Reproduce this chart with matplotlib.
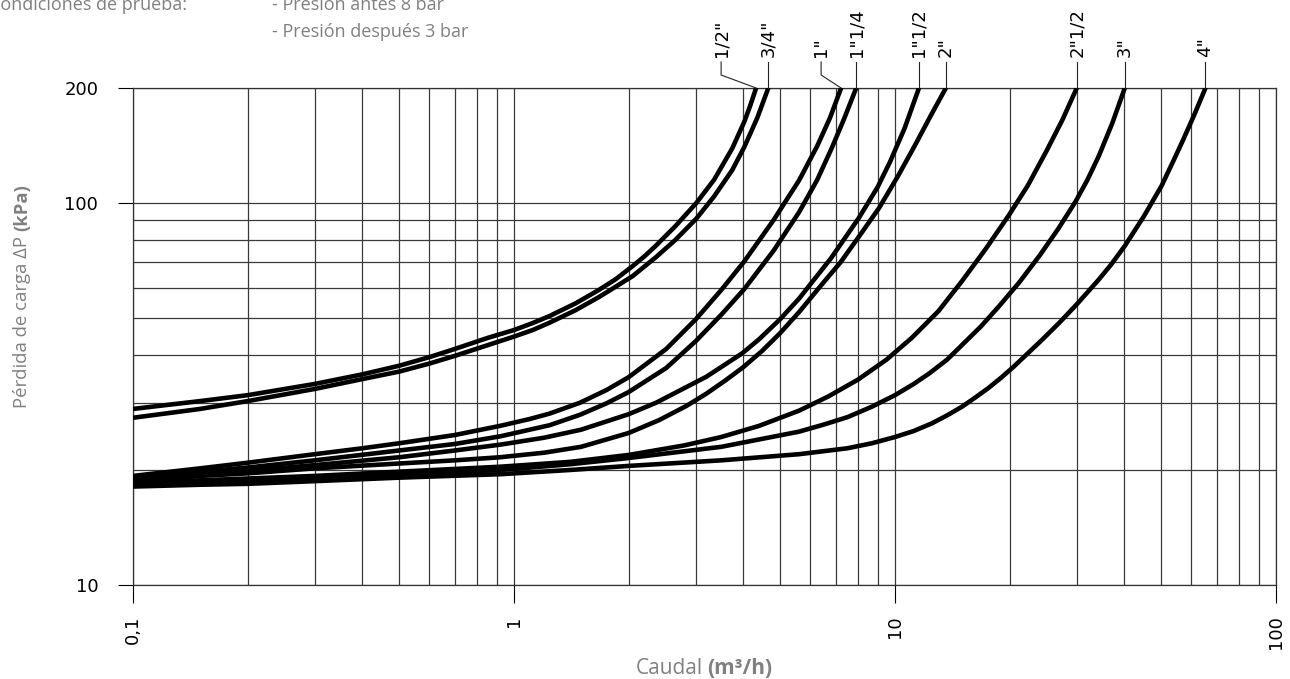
import matplotlib
matplotlib.use('Agg')
import matplotlib.pyplot as plt
from matplotlib.lines import Line2D
from matplotlib.ticker import FixedLocator, LogLocator, NullFormatter

# sizes (labels at top of each curve)
sizes = ['1/2"', '3/4"', '1"', '1"1/4', '1"1/2', '2"', '2"1/2', '3"', '4"']

# caudal (m3/h) / perdida de carga (kPa)
q_12 = [0.1, 0.15, 0.2, 0.3, 0.4, 0.5, 0.6, 0.7, 0.85, 1.0, 1.12, 1.24, 1.45, 1.67,
        1.85, 2.05, 2.2, 2.36, 2.65, 3.01, 3.35, 3.74, 4.02, 4.17, 4.32]
p_12 = [28.9, 30.3, 31.4, 33.6, 35.6, 37.5, 39.5, 41.5, 44.3, 46.5, 48.5, 50.6, 54.6, 59.2,
        63.2, 68.4, 72.5, 77.4, 86.9, 100, 115, 139, 163, 180, 200]

q_34 = [0.1, 0.15, 0.2, 0.3, 0.4, 0.5, 0.6, 0.7, 0.85, 1.0, 1.12, 1.24, 1.45, 1.67,
        1.85, 2.05, 2.2, 2.36, 2.65, 3.01, 3.35, 3.74, 4.02, 4.35, 4.5, 4.65]
p_34 = [27.4, 28.9, 30.3, 32.6, 34.6, 36.2, 38.0, 39.8, 42.4, 44.7, 46.5, 48.6, 52.4, 56.7,
        60.4, 64.4, 68.2, 72.2, 80.0, 91.0, 104, 122, 140, 167, 183, 200]

q_1 = [0.1, 0.15, 0.2, 0.3, 0.4, 0.5, 0.7, 0.92, 1.1, 1.24, 1.49, 1.75, 2.0, 2.51, 3.0,
       3.5, 4.02, 4.8, 5.6, 6.25, 6.75, 7.22]
p_1 = [19.3, 20.2, 20.9, 22.0, 22.8, 23.5, 24.7, 26.1, 27.2, 28.1, 30.0, 32.4, 35.0, 41.5,
       49.6, 59.2, 70.3, 90.2, 114.6, 141, 167, 200]

q_114 = [0.1, 0.2, 0.3, 0.5, 0.7, 0.92, 1.24, 1.49, 1.75, 2.0, 2.51, 3.0, 3.5, 4.02,
         4.8, 5.6, 6.25, 6.84, 7.35, 7.91]
p_114 = [19.1, 20.3, 21.2, 22.5, 23.4, 24.5, 26.2, 27.9, 29.9, 32.0, 37.0, 43.5, 51.0, 59.5,
         75.0, 94.6, 115, 140, 166, 200]

q_112 = [0.1, 0.2, 0.3, 0.5, 0.7, 0.92, 1.2, 1.5, 2.0, 2.36, 3.2, 3.97, 4.4, 5.0, 5.6,
         6.8, 8.05, 9.0, 9.7, 10.6, 11.56]
p_112 = [18.9, 19.9, 20.6, 21.6, 22.5, 23.3, 24.3, 25.5, 28.0, 30.0, 35.1, 40.4, 44.0, 49.7,
         56.2, 71.8, 91.6, 110, 128, 157, 200]

q_2 = [0.1, 0.15, 0.2, 0.3, 0.5, 0.7, 0.92, 1.2, 1.5, 2.0, 2.4, 2.83, 3.2, 3.6, 4.0,
       4.48, 5.0, 5.6, 6.4, 7.2, 8.1, 9.08, 10.2, 11.3, 12.4, 13.6]
p_2 = [18.7, 19.3, 19.6, 20.2, 20.8, 21.2, 21.6, 22.2, 23.0, 25.0, 27.0, 29.4, 31.7, 34.4,
       37.2, 41.0, 45.7, 51.8, 60.9, 70.0, 82.5, 97.0, 118, 142, 169, 200]

q_212 = [0.1, 0.15, 0.2, 0.3, 0.5, 0.92, 1.4, 2.0, 2.8, 3.5, 4.4, 5.6, 6.7, 8.0, 9.5,
         11.08, 13.0, 15.0, 17.3, 19.9, 22.3, 25.0, 27.5, 30.0]
p_212 = [18.5, 18.8, 19.0, 19.3, 19.8, 20.4, 21.0, 21.9, 23.2, 24.4, 26.1, 28.6, 31.2, 34.5,
         38.9, 44.4, 52.1, 62.5, 75.8, 92.9, 111, 137, 165, 200]

q_3 = [0.1, 0.15, 0.2, 0.3, 0.5, 0.92, 1.4, 2.0, 3.5, 5.6, 6.5, 7.5, 8.7, 10.0, 11.2,
       12.3, 13.7, 15.0, 16.8, 18.7, 21.2, 24.0, 26.8, 29.8, 32.0, 34.3, 37.2, 40.1]
p_3 = [18.3, 18.5, 18.7, 19.0, 19.4, 20.0, 20.7, 21.5, 23.0, 25.2, 26.3, 27.5, 29.3, 31.4,
       33.6, 35.8, 38.9, 42.5, 47.5, 53.5, 62.0, 73.0, 85.5, 101, 115, 133, 162, 200]

q_4 = [0.1, 0.15, 0.2, 0.3, 0.5, 0.92, 1.4, 2.0, 3.5, 5.6, 7.5, 8.7, 10.0, 11.2, 12.5,
       13.7, 15.0, 16.2, 17.6, 19.0, 20.5, 24.3, 27.0, 30.0, 34.3, 37.0, 40.1, 45.0,
       50.1, 54.0, 57.0, 61.0, 65.3]
p_4 = [18.1, 18.3, 18.4, 18.7, 19.1, 19.5, 20.0, 20.5, 21.2, 22.0, 22.8, 23.5, 24.4, 25.3,
       26.5, 27.8, 29.3, 30.9, 32.8, 34.9, 37.3, 43.8, 48.6, 54.3, 63.1, 69.2, 77.2, 92.3,
       111, 130, 146, 170, 200]

curves = [(q_12, p_12), (q_34, p_34), (q_1, p_1), (q_114, p_114), (q_112, p_112),
          (q_2, p_2), (q_212, p_212), (q_3, p_3), (q_4, p_4)]

x_ticks = [0.1, 1, 10, 100]
x_tick_labels = ['0,1', '1', '10', '100']
y_ticks = [10, 100, 200]
y_tick_labels = ['10', '100', '200']
y_minor = [20, 30, 40, 50, 60, 70, 80, 90]

gray = '#808080'
W, H = 1290, 679
num_font = 'DejaVu Sans'

fig = plt.figure(figsize=(W / 100, H / 100), dpi=100)
ax = fig.add_axes([133 / W, 1 - 585 / H, (1276 - 133) / W, (585 - 88) / H])
ax.set_xscale('log')
ax.set_yscale('log')
ax.set_xlim(0.1, 100)
ax.set_ylim(10, 200)

ax.set_xticks(x_ticks)
ax.set_xticklabels(x_tick_labels, rotation=90, fontfamily=num_font, fontsize=13)
ax.xaxis.set_minor_locator(LogLocator(base=10, subs=range(2, 10)))
ax.xaxis.set_minor_formatter(NullFormatter())
ax.set_yticks(y_ticks)
ax.set_yticklabels(y_tick_labels, fontfamily=num_font, fontsize=13)
ax.yaxis.set_minor_locator(FixedLocator(y_minor))
ax.yaxis.set_minor_formatter(NullFormatter())

ax.tick_params(which='minor', length=0)
ax.tick_params(axis='x', which='major', length=13, width=0.8, pad=9, direction='out')
ax.tick_params(axis='y', which='major', length=11, width=0.8, pad=14, direction='out')
ax.grid(which='both', color='#3a3a3a', linewidth=0.9)
for s in ax.spines.values():
    s.set_linewidth(0.9)
    s.set_color('#333333')

for q, p in curves:
    ax.plot(q, p, color='black', linewidth=3.3, solid_capstyle='round',
            solid_joinstyle='round', zorder=3)

# labels with leader lines above the plot
label_dx = [-35, 0, -20, 0, 0, 0, 0, 0, 0]
to_fig = fig.transFigure.inverted()
for (q, p), name, dx in zip(curves, sizes, label_dx):
    ex, ey = ax.transData.transform((q[-1], p[-1]))
    pts = [(ex + dx, ey + 26)]
    if dx != 0:
        pts.append((ex + dx, ey + 13))
    pts.append((ex, ey))
    fpts = to_fig.transform(pts)
    fig.add_artist(Line2D(fpts[:, 0], fpts[:, 1], color='#222222', linewidth=0.8,
                          transform=fig.transFigure))
    tx, ty = to_fig.transform((ex + dx, ey + 31))
    fig.text(tx, ty, name, rotation=90, ha='center', va='bottom',
             fontfamily=num_font, fontsize=13)

# test conditions (top left, partly cut)
tfont = dict(fontfamily='Open Sans', fontsize=13, color=gray, va='baseline')
fig.text(-11 / W, 1 - 10 / H, 'Condiciones de prueba:', ha='left', **tfont)
fig.text(272 / W, 1 - 10 / H, '- Presión antes 8 bar', ha='left', **tfont)
fig.text(272 / W, 1 - 37 / H, '- Presión después 3 bar', ha='left', **tfont)

# axis titles: normal part + bold unit
renderer = fig.canvas.get_renderer()
gap = 5

a = fig.text(0, 0, 'Caudal', va='center', ha='left', fontfamily='Open Sans',
             fontsize=15, color=gray)
b = fig.text(0, 0, '(m³/h)', va='center', ha='left', fontweight='bold',
             fontfamily='Open Sans', fontsize=15, color=gray)
wa = a.get_window_extent(renderer).width
wb = b.get_window_extent(renderer).width
x0 = 704 - (wa + gap + wb) / 2
a.set_position((x0 / W, 1 - 668 / H))
b.set_position(((x0 + wa + gap) / W, 1 - 668 / H))

c = fig.text(0, 0, 'Pérdida de carga ΔP', rotation=90, va='bottom', ha='center',
             fontfamily='Open Sans', fontsize=13.3, color=gray)
d = fig.text(0, 0, '(kPa)', rotation=90, va='bottom', ha='center', fontweight='bold',
             fontfamily='Open Sans', fontsize=13.3, color=gray)
hc = c.get_window_extent(renderer).height
hd = d.get_window_extent(renderer).height
y0 = (H - 296) - (hc + gap + hd) / 2
c.set_position((22 / W, y0 / H))
d.set_position((22 / W, (y0 + hc + gap) / H))

fig.savefig('out.png', dpi=100)
